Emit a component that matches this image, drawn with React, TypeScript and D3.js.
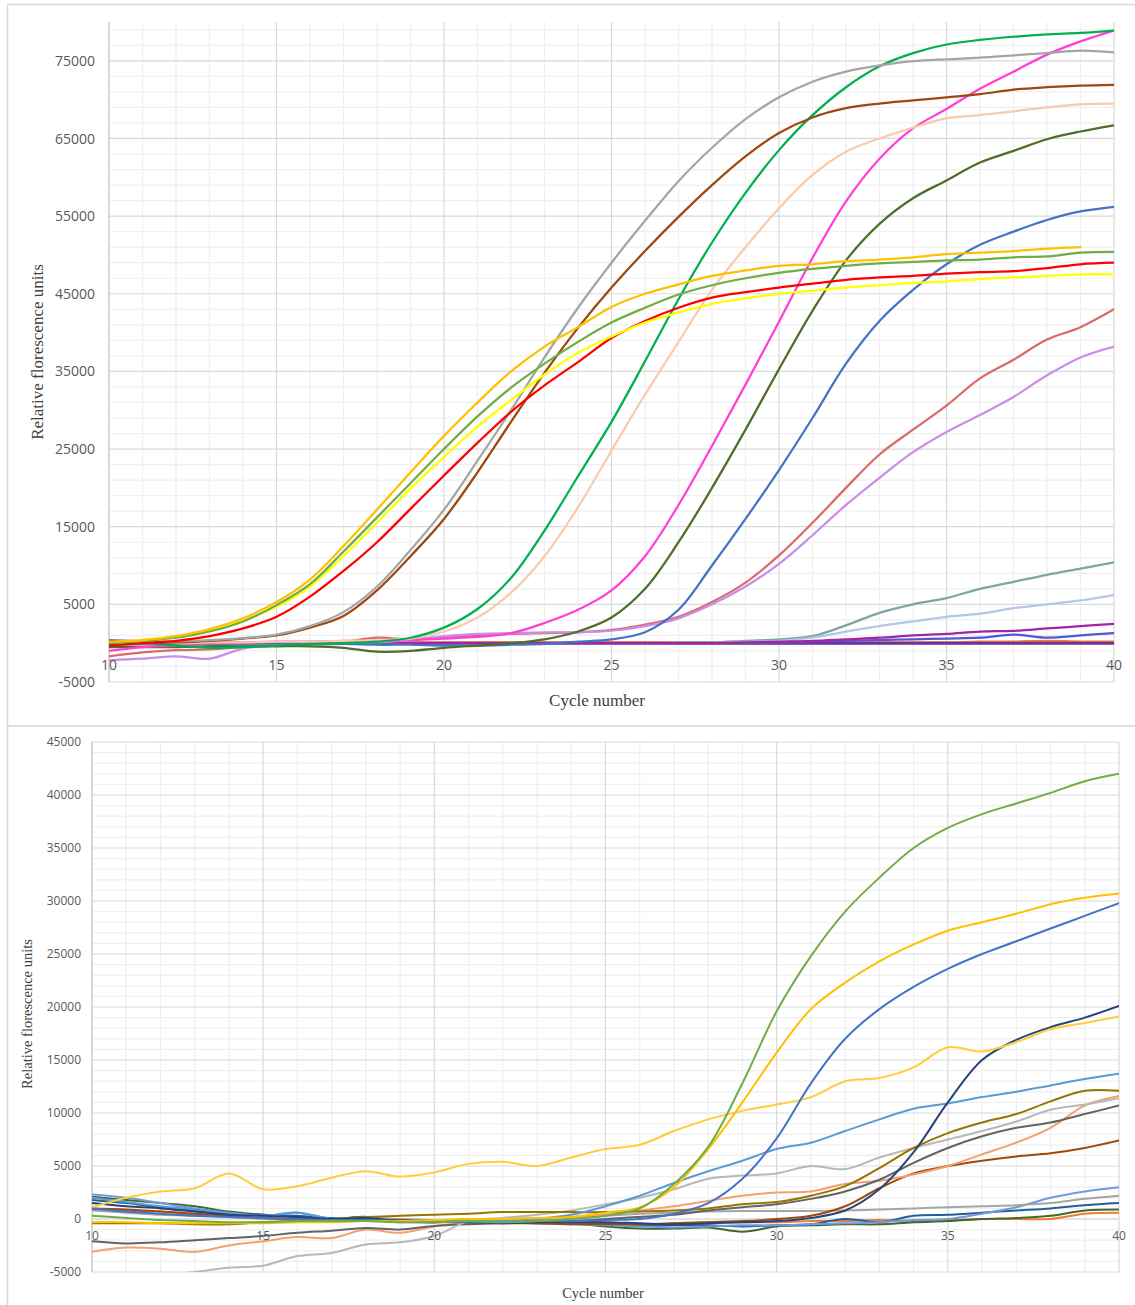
import * as d3 from 'd3';

// cycle numbers on the x axis
const cycles = [10, 11, 12, 13, 14, 15, 16, 17, 18, 19, 20, 21, 22, 23, 24, 25, 26, 27, 28, 29, 30, 31, 32, 33, 34, 35, 36, 37, 38, 39, 40];
const xTicks = [10, 15, 20, 25, 30, 35, 40];
const topYTicks = [-5000, 5000, 15000, 25000, 35000, 45000, 55000, 65000, 75000];
const botYTicks = [-5000, 0, 5000, 10000, 15000, 20000, 25000, 30000, 35000, 40000, 45000];

// ---- top chart series (RFU per cycle) ----
const topGold = [200, 400, 900, 1800, 3200, 5300, 8200, 12500, 17200, 22000, 26700, 31000, 35000, 38200, 40700, 43300, 45000, 46200, 47300, 48000, 48600, 48800, 49200, 49400, 49700, 50100, 50300, 50500, 50800, 51000];
const topLightGreen = [0, 300, 700, 1500, 2800, 4900, 7600, 11800, 16200, 20600, 25000, 29200, 32900, 36000, 38800, 41300, 43200, 44900, 46100, 47000, 47700, 48200, 48600, 48900, 49100, 49300, 49400, 49700, 49800, 50300, 50400];
const topYellow = [100, 400, 800, 1600, 2900, 4700, 7300, 11200, 15500, 19900, 24000, 27900, 31300, 34600, 37400, 39500, 41300, 42600, 43700, 44400, 45000, 45400, 45800, 46100, 46400, 46600, 46900, 47100, 47300, 47500, 47500];
const topRed = [-300, 0, 300, 900, 1900, 3400, 6000, 9300, 13000, 17300, 21600, 25800, 29800, 33200, 36200, 39300, 41500, 43200, 44500, 45200, 45800, 46300, 46800, 47100, 47300, 47600, 47800, 47900, 48300, 48800, 49000];
const topGray = [0, 100, 250, 400, 650, 1100, 2200, 4000, 7300, 12000, 17200, 23500, 30000, 36800, 43200, 49000, 54400, 59500, 63800, 67500, 70300, 72300, 73600, 74400, 74950, 75200, 75400, 75700, 76000, 76300, 76100];
const topBrown = [-200, 0, 100, 300, 600, 1000, 2000, 3500, 6800, 11200, 16000, 22000, 28500, 34800, 40600, 45800, 50500, 54900, 59000, 62700, 65700, 67700, 68900, 69500, 69900, 70300, 70700, 71300, 71600, 71800, 71900];
const topGreen = [0, 0, -300, -600, -500, -300, -100, 0, 200, 700, 2000, 4400, 8400, 14500, 21500, 28500, 36300, 44300, 51600, 58000, 63500, 68000, 71600, 74300, 76000, 77100, 77700, 78100, 78400, 78600, 78900];
const topPeach = [0, 0, 0, 100, 100, 200, 200, 300, 400, 600, 1500, 3300, 6500, 11200, 17500, 24800, 32000, 38800, 45500, 51000, 56000, 60300, 63300, 65000, 66400, 67600, 68000, 68500, 69000, 69400, 69500];
const topMagenta = [-1000, -500, -300, 0, 100, 200, 200, 300, 300, 400, 600, 800, 1300, 2600, 4300, 6800, 11200, 17800, 25400, 33300, 41400, 49600, 56900, 62400, 66300, 68800, 71400, 73600, 75800, 77500, 78900];
const topDarkGreen = [-500, -500, -500, -400, -400, -400, -400, -600, -1100, -1000, -600, -300, 0, 500, 1500, 3300, 7000, 13000, 20000, 27500, 35300, 42800, 49300, 54000, 57300, 59600, 61900, 63400, 64900, 65900, 66700];
const topBlue = [0, 0, 0, 0, 0, 0, 0, -100, -200, -200, -300, -300, -200, -100, 200, 500, 1400, 4300, 10000, 16000, 22300, 29000, 36000, 41500, 45500, 48800, 51300, 53000, 54500, 55600, 56200];
const topRose = [-1700, -1200, -900, -800, -500, -200, 0, 200, 700, 500, 800, 1000, 1200, 1300, 1400, 1700, 2400, 3400, 5300, 7800, 11300, 15500, 20000, 24300, 27500, 30600, 34100, 36500, 39100, 40700, 43000];
const topLavender = [-2200, -2000, -1700, -2000, -700, -300, -200, -100, 100, 400, 900, 1200, 1300, 1400, 1400, 1600, 2200, 3200, 5000, 7300, 10200, 13900, 17800, 21300, 24600, 27200, 29400, 31700, 34500, 36800, 38200];
const topTeal = [-200, -200, -200, -200, -200, -100, -100, 0, 0, 0, 0, 0, 0, 0, 0, 0, 0, 100, 100, 300, 500, 900, 2300, 3900, 5000, 5800, 7000, 7900, 8800, 9600, 10400];
const topLightBlue = [0, 0, 0, 0, 0, 0, 0, 0, 0, 0, 0, 0, 0, 0, 0, 0, 0, 0, 0, 100, 300, 700, 1500, 2200, 2800, 3400, 3800, 4500, 5000, 5500, 6200];
const topPurple = [0, 0, 0, 0, 0, 0, 0, 0, 0, 0, 0, 0, 0, 0, 0, 0, 0, 0, 0, 100, 200, 300, 500, 700, 1000, 1200, 1500, 1600, 1900, 2200, 2500];
const topIndigo = [0, 0, 0, 0, 0, 0, 0, 0, 0, 0, 0, 0, 0, 0, 0, 0, 0, 0, 0, 0, 100, 200, 300, 400, 500, 600, 700, 1100, 700, 1000, 1300];
const topOrangeFlat = [100, 100, 100, 100, 100, 100, 100, 100, 100, 100, 100, 100, 100, 100, 100, 100, 100, 100, 100, 100, 100, 100, 100, 100, 100, 100, 200, 200, 300, 200, 200];
const topGrayFlat = [0, 0, 0, 0, 0, 0, 0, 0, 0, 0, 0, 0, 0, 0, 0, 0, 0, 0, 0, 0, 0, 0, 0, 0, 0, 0, 0, 0, 100, 100, 100];
const topPurpleDark = [300, 200, 100, 100, 0, 0, 0, 0, 0, 0, 0, 0, 0, 0, 0, 0, 0, 0, 0, 0, 0, 0, 0, 0, 0, 0, 0, 0, 0, 0, 0];

// ---- bottom chart series ----
const botGreen = [300, 100, -100, -200, -300, -300, -200, -200, -200, -300, -300, -200, -300, -200, 0, 300, 1000, 3300, 6800, 12800, 19600, 24800, 29000, 32200, 35000, 36900, 38200, 39200, 40200, 41300, 42000];
const botGold = [-300, -300, -400, -400, -400, -400, -300, -300, -200, -200, -100, 0, 0, 100, 200, 600, 1100, 3000, 6600, 11000, 15700, 19800, 22300, 24300, 25900, 27200, 28000, 28800, 29700, 30300, 30700];
const botBlue = [1000, 700, 500, 300, 200, 100, 0, -100, -100, -200, -200, -300, -300, -200, -200, -100, 0, 500, 1500, 3800, 7600, 12800, 17000, 19800, 21900, 23600, 25000, 26200, 27400, 28600, 29800];
const botYellow = [1100, 2000, 2600, 2900, 4300, 2800, 3100, 3900, 4500, 4000, 4400, 5200, 5400, 5000, 5800, 6600, 7000, 8300, 9400, 10200, 10800, 11500, 13000, 13300, 14300, 16200, 15800, 16700, 17900, 18500, 19100];
const botNavy = [1500, 1200, 1000, 700, 400, 300, 200, 0, 100, -200, -200, -300, -400, -300, -300, -300, -400, -500, -400, -300, -200, 100, 800, 2800, 6300, 11000, 15000, 16900, 18100, 19000, 20100];
const botLightBlue = [2000, 1600, 1200, 900, 600, 300, 600, 0, -100, -200, -100, -200, -200, 0, 400, 1200, 2200, 3400, 4500, 5500, 6600, 7200, 8300, 9400, 10400, 10900, 11500, 12000, 12600, 13200, 13700];
const botOlive = [-400, -400, -400, -500, -500, -300, -200, 0, 200, 300, 400, 500, 650, 650, 650, 650, 700, 800, 1000, 1400, 1600, 2200, 3100, 4800, 6700, 8100, 9100, 9900, 11100, 12100, 12100];
const botGrayLight = [-5800, -5600, -5300, -5000, -4600, -4400, -3500, -3200, -2400, -2200, -1600, -200, 100, 400, 800, 1400, 2000, 2800, 3800, 4100, 4300, 5000, 4700, 5800, 6700, 7500, 8300, 9200, 10300, 10800, 11400];
const botDarkGray = [-2100, -2300, -2200, -2000, -1800, -1600, -1300, -1100, -850, -1000, -650, -500, -400, -300, -200, 0, 200, 400, 800, 1100, 1400, 1900, 2600, 3700, 5300, 6700, 7800, 8600, 9100, 9900, 10700];
const botSalmon = [-3100, -2700, -2800, -3100, -2500, -2100, -1700, -1800, -1000, -1300, -700, -300, 0, 100, 200, 400, 800, 1200, 1700, 2200, 2500, 2600, 3300, 3600, 4200, 5000, 6100, 7200, 8600, 10700, 11600];
const botBrown = [1000, 900, 700, 500, 300, 100, 0, 0, -100, -100, -200, -300, -400, -400, -500, -500, -500, -400, -300, -200, 0, 300, 1200, 2900, 4300, 5000, 5500, 5900, 6200, 6700, 7400];
const botGrayMid = [800, 600, 400, 300, 200, 0, -100, 0, 100, 0, -100, -200, -200, -100, 0, 300, 500, 600, 700, 750, 750, 750, 800, 900, 1000, 1100, 1200, 1300, 1500, 1900, 2200];
const botMedBlue = [2300, 2000, 1500, 1000, 600, 300, 600, 0, -100, -300, -300, -200, -300, -400, -500, -600, -700, -800, -700, -600, -600, -500, -400, -300, -100, 0, 500, 1100, 2000, 2600, 3000];
const botDarkBlue = [1800, 1500, 1100, 800, 500, 400, 300, 100, 0, -200, -300, -100, -300, -400, -400, -500, -600, -600, -600, -700, -600, -500, 0, -300, 300, 400, 600, 800, 1000, 1300, 1500];
const botDarkGreen = [2100, 1800, 1500, 1200, 700, 400, 200, 0, 200, -200, -300, 0, -300, -300, -400, -700, -900, -900, -800, -1200, -700, -600, -500, -500, -300, -200, 0, 100, 300, 800, 900];
const botOrange = [900, 800, 700, 400, 200, 100, 0, -100, -200, -200, -300, -300, -300, -400, -400, -400, -500, -400, -300, -300, -300, -200, -200, -100, -200, -100, 0, 0, 0, 500, 600];

type Series = { color: string; values: number[]; width?: number };

const topSeries: Series[] = [
  { color: '#A5A5A5', values: topGrayFlat },
  { color: '#ED7D31', values: topOrangeFlat },
  { color: '#7030A0', values: topPurpleDark, width: 3 },
  { color: '#7BA7A3', values: topTeal },
  { color: '#B4C7E7', values: topLightBlue },
  { color: '#5555D5', values: topIndigo },
  { color: '#A5249F', values: topPurple },
  { color: '#D96B6B', values: topRose },
  { color: '#C98DEA', values: topLavender },
  { color: '#4472C4', values: topBlue },
  { color: '#4E6F2A', values: topDarkGreen },
  { color: '#FF3FD8', values: topMagenta },
  { color: '#F8CBAD', values: topPeach },
  { color: '#00B050', values: topGreen },
  { color: '#9E480E', values: topBrown },
  { color: '#A5A5A5', values: topGray },
  { color: '#FF0000', values: topRed },
  { color: '#FFFF00', values: topYellow },
  { color: '#70AD47', values: topLightGreen },
  { color: '#FFC000', values: topGold },
];

const botSeries: Series[] = [
  { color: '#ED7D31', values: botOrange },
  { color: '#43682B', values: botDarkGreen },
  { color: '#255E91', values: botDarkBlue },
  { color: '#6E9BDE', values: botMedBlue },
  { color: '#A5A5A5', values: botGrayMid },
  { color: '#9E480E', values: botBrown },
  { color: '#F4A06E', values: botSalmon },
  { color: '#636363', values: botDarkGray },
  { color: '#B8B8B8', values: botGrayLight },
  { color: '#997300', values: botOlive },
  { color: '#5B9BD5', values: botLightBlue },
  { color: '#264478', values: botNavy },
  { color: '#FFCD3C', values: botYellow },
  { color: '#4472C4', values: botBlue },
  { color: '#FFC000', values: botGold },
  { color: '#70AD47', values: botGreen },
];

type Cfg = {
  id: string;
  left: number; right: number; top: number; bottom: number;
  yDomain: [number, number]; yTicks: number[]; minorStep: number;
  yLabelX: number; tickSize: number; xLabelY: number;
  titleSize: number; yTitleX: number; yTitleY: number; xTitleX: number; xTitleY: number;
  lineWidth: number;
};

const Panel = ({ cfg, series }: { cfg: Cfg; series: Series[] }) => {
  const x = d3.scaleLinear().domain([10, 40]).range([cfg.left, cfg.right]);
  const y = d3.scaleLinear().domain(cfg.yDomain).range([cfg.bottom, cfg.top]);
  const line = d3.line<number>()
    .x((_, i) => x(cycles[i]))
    .y(v => y(v))
    .curve(d3.curveCatmullRom.alpha(0.5));

  const minorY = d3.range(cfg.yDomain[0], cfg.yDomain[1] + 1, cfg.minorStep)
    .filter(v => !cfg.yTicks.includes(v));
  const minorX = cycles.filter(c => !xTicks.includes(c));

  return (
    <g>
      <defs>
        <clipPath id={cfg.id}>
          <rect x={cfg.left} y={cfg.top} width={cfg.right - cfg.left} height={cfg.bottom - cfg.top} />
        </clipPath>
      </defs>
      {/* minor grid */}
      {minorY.map(v => (
        <line key={'my' + v} x1={cfg.left} x2={cfg.right} y1={y(v)} y2={y(v)} stroke="#efefef" strokeWidth={1.2} />
      ))}
      {minorX.map(c => (
        <line key={'mx' + c} x1={x(c)} x2={x(c)} y1={cfg.top} y2={cfg.bottom} stroke="#efefef" strokeWidth={1.2} />
      ))}
      {/* major grid */}
      {cfg.yTicks.map(v => (
        <line key={'gy' + v} x1={cfg.left} x2={cfg.right} y1={y(v)} y2={y(v)} stroke="#d9d9d9" strokeWidth={1.2} />
      ))}
      {xTicks.map(c => (
        <line key={'gx' + c} x1={x(c)} x2={x(c)} y1={cfg.top} y2={cfg.bottom} stroke="#d9d9d9" strokeWidth={1.2} />
      ))}
      <line x1={cfg.left} x2={cfg.right} y1={y(0)} y2={y(0)} stroke="#d9d9d9" strokeWidth={1.2} />
      <line x1={cfg.left} x2={cfg.left} y1={cfg.top} y2={cfg.bottom} stroke="#cfcfcf" strokeWidth={1.3} />

      {/* curves */}
      <g clipPath={`url(#${cfg.id})`}>
        {series.map((s, i) => (
          <path key={i} d={line(s.values) || ''} fill="none" stroke={s.color}
            strokeWidth={s.width ?? cfg.lineWidth} strokeLinejoin="round" strokeLinecap="round" />
        ))}
      </g>

      {/* tick labels */}
      {cfg.yTicks.map(v => (
        <text key={'ty' + v} x={cfg.yLabelX} y={y(v)} dy="0.36em" textAnchor="end"
          fontFamily="'Open Sans', sans-serif" fontSize={cfg.tickSize} fill="#595959">{v}</text>
      ))}
      {xTicks.map(c => (
        <text key={'tx' + c} x={x(c)} y={cfg.xLabelY} textAnchor="middle"
          fontFamily="'Open Sans', sans-serif" fontSize={cfg.tickSize} fill="#595959">{c}</text>
      ))}

      {/* axis titles */}
      <text transform={`translate(${cfg.yTitleX},${cfg.yTitleY}) rotate(-90)`} textAnchor="middle" dy="0.35em"
        fontFamily="'Liberation Serif', 'Times New Roman', serif" fontSize={cfg.titleSize} fill="#404040">
        Relative florescence units
      </text>
      <text x={cfg.xTitleX} y={cfg.xTitleY} textAnchor="middle"
        fontFamily="'Liberation Serif', 'Times New Roman', serif" fontSize={cfg.titleSize} fill="#404040">
        Cycle number
      </text>
    </g>
  );
};

const topCfg: Cfg = {
  id: 'clipTop', left: 109, right: 1114, top: 22, bottom: 682,
  yDomain: [-5000, 80000], yTicks: topYTicks, minorStep: 2000,
  yLabelX: 95, tickSize: 14, xLabelY: 670,
  titleSize: 17, yTitleX: 37, yTitleY: 352, xTitleX: 597, xTitleY: 706,
  lineWidth: 2.25,
};

const botCfg: Cfg = {
  id: 'clipBot', left: 92, right: 1119, top: 742, bottom: 1272,
  yDomain: [-5000, 45000], yTicks: botYTicks, minorStep: 1000,
  yLabelX: 81, tickSize: 12, xLabelY: 1240,
  titleSize: 14.5, yTitleX: 27, yTitleY: 1014, xTitleX: 603, xTitleY: 1298,
  lineWidth: 2,
};

const App = () => (
  <svg width={1135} height={1305} style={{ position: 'absolute', left: 0, top: 0, background: '#fff' }}>
    <rect x={0} y={0} width={1135} height={1305} fill="#fff" />
    <rect x={7.5} y={4.5} width={1140} height={721.5} fill="#fff" stroke="#d9d9d9" strokeWidth={1.5} />
    <rect x={7.5} y={726} width={1140} height={600} fill="#fff" stroke="#d9d9d9" strokeWidth={1.5} />
    <Panel cfg={topCfg} series={topSeries} />
    <Panel cfg={botCfg} series={botSeries} />
  </svg>
);

export default App;
